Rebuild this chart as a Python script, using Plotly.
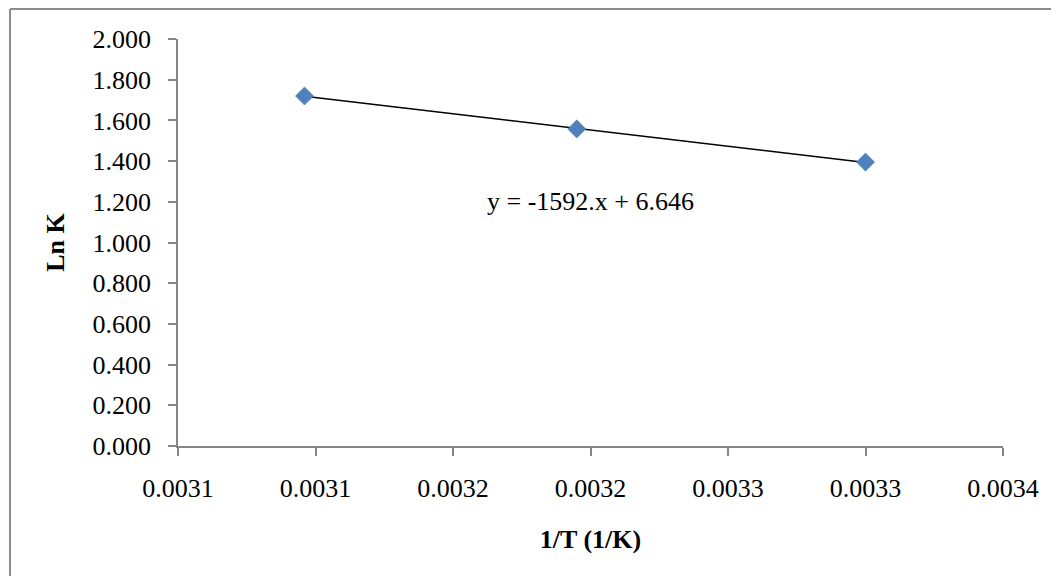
import numpy as np
import plotly.graph_objects as go

# Data (1/T in 1/K, Ln K)
inv_T = [0.003096, 0.003195, 0.003300]
ln_K = [1.720, 1.558, 1.395]

x_tick_vals = [0.00305, 0.00310, 0.00315, 0.00320, 0.00325, 0.00330, 0.00335]
x_tick_text = ["0.0031", "0.0031", "0.0032", "0.0032", "0.0033", "0.0033", "0.0034"]
y_tick_vals = [0.0, 0.2, 0.4, 0.6, 0.8, 1.0, 1.2, 1.4, 1.6, 1.8, 2.0]

slope, intercept = np.polyfit(inv_T, ln_K, 1)
trend_x = [min(inv_T), max(inv_T)]
trend_y = [slope * v + intercept for v in trend_x]

FONT = "Liberation Serif"
AXIS_COLOR = "#868686"
FS = 26

fig = go.Figure()
fig.add_trace(go.Scatter(x=trend_x, y=trend_y, mode="lines",
                         line=dict(color="black", width=1.5), showlegend=False,
                         hoverinfo="skip"))
fig.add_trace(go.Scatter(x=inv_T, y=ln_K, mode="markers",
                         marker=dict(symbol="diamond", size=14, color="#4F81BD",
                                     line=dict(color="#4A7AB3", width=0.5)),
                         showlegend=False))

fig.add_annotation(x=0.5, y=1.2, xref="paper", yref="y",
                   xanchor="center", yanchor="middle", showarrow=False,
                   text="y = -1592.x + 6.646",
                   font=dict(family=FONT, size=FS, color="black"))

# outer frame (left and top edges)
fig.add_shape(type="line", xref="paper", yref="paper",
              x0=-0.2036, y0=-0.35, x1=-0.2036, y1=1.0737,
              line=dict(color="#8C8C8C", width=2))
fig.add_shape(type="line", xref="paper", yref="paper",
              x0=-0.2036, y0=1.0737, x1=1.1, y1=1.0737,
              line=dict(color="#8C8C8C", width=2))

fig.update_layout(
    width=1051, height=568,
    margin=dict(l=170, r=56, t=31, b=130),
    paper_bgcolor="white", plot_bgcolor="white",
    font=dict(family=FONT, size=FS, color="black"),
    xaxis=dict(range=[0.00305, 0.00335], tickvals=x_tick_vals, ticktext=x_tick_text,
               showgrid=False, zeroline=False, showline=True, linecolor=AXIS_COLOR,
               linewidth=1.5, ticks="outside", ticklen=8, tickcolor=AXIS_COLOR,
               tickwidth=1.5, ticklabelstandoff=10,
               tickfont=dict(family=FONT, size=FS, color="black"),
               title=dict(text="<b>1/T (1/K)</b>", font=dict(family=FONT, size=FS),
                          standoff=28)),
    yaxis=dict(range=[0, 2.0], tickvals=y_tick_vals, tickformat=".3f",
               showgrid=False, zeroline=False, showline=True, linecolor=AXIS_COLOR,
               linewidth=1.5, ticks="outside", ticklen=8, tickcolor=AXIS_COLOR,
               tickwidth=1.5, ticklabelstandoff=12,
               tickfont=dict(family=FONT, size=FS, color="black"),
               title=dict(text="<b>Ln K</b>", font=dict(family=FONT, size=FS),
                          standoff=20)),
)

fig.write_html("out.html")
